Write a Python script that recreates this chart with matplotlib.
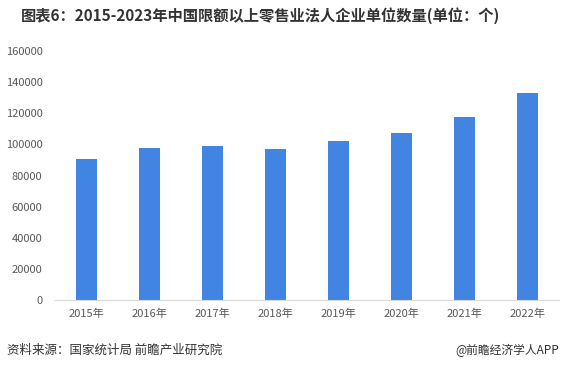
import matplotlib
matplotlib.use("Agg")
import matplotlib.pyplot as plt

plt.rcParams['font.family'] = ['Noto Sans CJK SC', 'DejaVu Sans']

years = ['2015年', '2016年', '2017年', '2018年', '2019年', '2020年', '2021年', '2022年']
counts = [90600, 97700, 99000, 97000, 102200, 107300, 117600, 133000]
yticks = [0, 20000, 40000, 60000, 80000, 100000, 120000, 140000, 160000]

title = '图表6：2015-2023年中国限额以上零售业法人企业单位数量(单位：个)'
source = '资料来源：国家统计局 前瞻产业研究院'
credit = '@前瞻经济学人APP'

fig = plt.figure(figsize=(5.62, 3.71), dpi=100)
ax = fig.add_axes([0.0979, 0.1914, 0.8968, 0.6711])

x = range(len(years))
ax.bar(x, counts, width=0.32, color='#4184E2')

ax.set_xlim(-0.5, len(years) - 0.5)
ax.set_ylim(0, 160000)
ax.set_yticks(yticks)
ax.set_yticklabels([str(v) for v in yticks])
ax.set_xticks(list(x))
ax.set_xticklabels(years)
ax.tick_params(axis='y', length=0, pad=9, labelsize=8, labelcolor='#595959')
ax.tick_params(axis='x', length=0, pad=6, labelsize=8, labelcolor='#595959')

for s in ['top', 'right', 'left']:
    ax.spines[s].set_visible(False)
ax.spines['bottom'].set_color('#d9d9d9')

fig.text(0.463, 0.958, title, ha='center', va='center', fontsize=11,
         fontweight='bold', color='#333333')
fig.text(0.012, 0.055, source, ha='left', va='center', fontsize=9, color='#333333')
fig.text(0.995, 0.055, credit, ha='right', va='center', fontsize=8.5, color='#333333')

fig.savefig('out.png', dpi=100)
